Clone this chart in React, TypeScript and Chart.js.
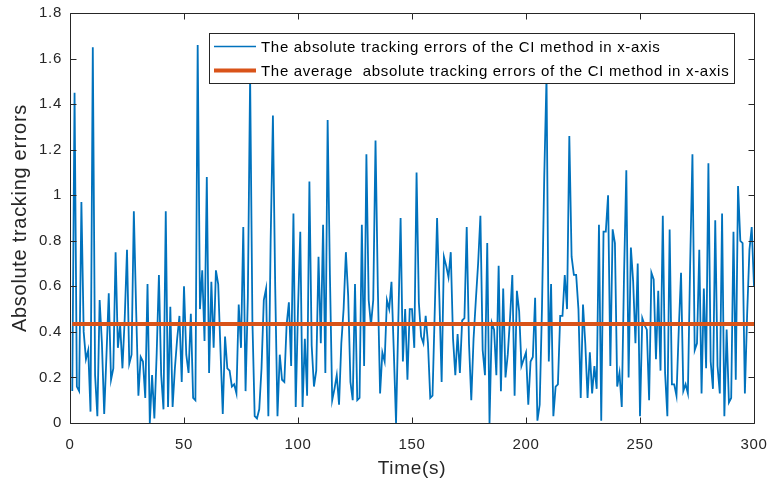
import React, { useEffect, useRef } from "react";
import { Chart, registerables } from "chart.js";

Chart.register(...registerables);

// ---- data ----
const TIME_S: number[] = Array.from({ length: 300 }, (_, i) => i + 1);

const ABS_ERRORS: number[] = [
  0.14, 1.45, 0.16, 0.14, 0.97, 0.4, 0.28, 0.32, 0.05, 1.65,
  0.21, 0.03, 0.54, 0.35, 0.04, 0.3, 0.57, 0.19, 0.24, 0.75,
  0.33, 0.43, 0.24, 0.46, 0.76, 0.26, 0.3, 0.93, 0.5, 0.12,
  0.29, 0.27, 0.11, 0.61, 0.0, 0.21, 0.02, 0.3, 0.65, 0.21,
  0.06, 0.93, 0.07, 0.51, 0.07, 0.24, 0.37, 0.47, 0.18, 0.6,
  0.3, 0.22, 0.48, 0.11, 0.1, 1.66, 0.5, 0.67, 0.36, 1.08,
  0.22, 0.62, 0.33, 0.67, 0.61, 0.32, 0.04, 0.38, 0.24, 0.23,
  0.16, 0.17, 0.13, 0.52, 0.33, 0.86, 0.14, 0.55, 1.52, 0.45,
  0.03, 0.02, 0.06, 0.24, 0.54, 0.59, 0.03, 0.8, 1.35, 0.6,
  0.03, 0.3, 0.19, 0.18, 0.43, 0.53, 0.25, 0.92, 0.07, 0.5,
  0.84, 0.07, 0.37, 0.12, 1.06, 0.34, 0.16, 0.23, 0.73, 0.35,
  0.87, 0.22, 1.33, 0.65, 0.1, 0.15, 0.21, 0.08, 0.35, 0.5,
  0.75, 0.56, 0.18, 0.1, 0.61, 0.1, 0.11, 0.87, 0.25, 1.18,
  0.54, 0.43, 0.54, 1.24, 0.6, 0.13, 0.31, 0.27, 0.54, 0.5,
  0.62, 0.32, 0.0, 0.45, 0.9, 0.27, 0.5, 0.19, 0.5, 0.5,
  0.33, 1.1, 0.53, 0.38, 0.35, 0.47, 0.35, 0.11, 0.12, 0.5,
  0.9, 0.55, 0.18, 0.73, 0.69, 0.64, 0.75, 0.37, 0.21, 0.39,
  0.22, 0.45, 0.46, 0.86, 0.35, 0.1, 0.37, 0.54, 0.7, 0.91,
  0.32, 0.21, 0.79, 0.0, 0.44, 0.41, 0.21, 0.69, 0.14, 0.59,
  0.2, 0.3, 0.46, 0.65, 0.12, 0.58, 0.49, 0.25, 0.28, 0.31,
  0.08, 0.27, 0.29, 0.55, 0.01, 0.08, 0.5, 1.08, 1.52, 0.27,
  0.61, 0.03, 0.16, 0.17, 0.47, 0.47, 0.65, 0.5, 1.26, 0.73,
  0.65, 0.65, 0.5, 0.11, 0.52, 0.35, 0.11, 0.31, 0.13, 0.25,
  0.15, 0.87, 0.01, 0.84, 0.84, 1.0, 0.25, 0.85, 0.79, 0.16,
  0.22, 0.07, 0.65, 1.11, 0.2, 0.77, 0.62, 0.35, 0.7, 0.03,
  0.46, 0.43, 0.41, 0.1, 0.66, 0.63, 0.28, 0.58, 0.23, 0.91,
  0.22, 0.03, 0.85, 0.17, 0.17, 0.12, 0.41, 0.66, 0.14, 0.17,
  0.13, 0.7, 1.18, 0.32, 0.35, 0.76, 0.13, 0.59, 0.24, 1.14,
  0.27, 0.15, 0.89, 0.25, 0.13, 0.92, 0.03, 0.41, 0.09, 0.11,
  0.84, 0.19, 1.04, 0.8, 0.79, 0.13, 0.48, 0.76, 0.86, 0.6,
];

const AVERAGE_ERROR = 0.435;

const X_TICKS: number[] = [0, 50, 100, 150, 200, 250, 300];
const Y_TICKS: number[] = [0, 0.2, 0.4, 0.6, 0.8, 1, 1.2, 1.4, 1.6, 1.8];

const SERIES_LABELS: string[] = [
  "The absolute tracking errors of the CI method in x-axis",
  "The average  absolute tracking errors of the CI method in x-axis",
];
const X_TITLE = "Time(s)";
const Y_TITLE = "Absolute tracking errors";

// ---- style ----
const BLUE = "#0072BD";
const ORANGE = "#D95319";
const AXIS = "#262626";
const FAMILY = '"Liberation Sans", Arial, Helvetica, sans-serif';
const LETTER_SPACING = "0.7px";

const framePlugin = {
  id: "matlabFrame",
  beforeUpdate(chart: any) {
    chart.ctx.letterSpacing = LETTER_SPACING;
  },
  beforeDraw(chart: any) {
    const ctx = chart.ctx;
    ctx.letterSpacing = LETTER_SPACING;
    ctx.save();
    ctx.fillStyle = "#ffffff";
    ctx.fillRect(0, 0, chart.width, chart.height);
    ctx.restore();
  },
  afterDatasetsDraw(chart: any) {
    const ctx = chart.ctx;
    const a = chart.chartArea;
    const xs = chart.scales.x;
    const ys = chart.scales.y;
    ctx.save();
    ctx.strokeStyle = AXIS;
    ctx.lineWidth = 1;
    const L = Math.round(a.left) + 0.5;
    const R = Math.round(a.right) + 0.5;
    const T = Math.round(a.top) + 0.5;
    const B = Math.round(a.bottom) + 0.5;
    ctx.beginPath();
    ctx.rect(L, T, R - L, B - T);
    const tl = 6;
    for (const v of X_TICKS) {
      const px = Math.round(xs.getPixelForValue(v)) + 0.5;
      ctx.moveTo(px, B);
      ctx.lineTo(px, B - tl);
      ctx.moveTo(px, T);
      ctx.lineTo(px, T + tl);
    }
    for (const v of Y_TICKS) {
      const py = Math.round(ys.getPixelForValue(v)) + 0.5;
      ctx.moveTo(L, py);
      ctx.lineTo(L + tl, py);
      ctx.moveTo(R, py);
      ctx.lineTo(R - tl, py);
    }
    ctx.stroke();

    // legend box (MATLAB style, inside axes, north-east)
    ctx.font = `15px ${FAMILY}`;
    ctx.letterSpacing = LETTER_SPACING;
    const textW = Math.max(...SERIES_LABELS.map((s) => ctx.measureText(s).width));
    const boxW = Math.round(52 + textW + 5);
    const boxH = 50;
    const boxR = Math.round(a.right) - 20;
    const boxL = boxR - boxW;
    const boxT = Math.round(a.top) + 20;
    ctx.fillStyle = "#ffffff";
    ctx.fillRect(boxL, boxT, boxW, boxH);
    ctx.strokeStyle = AXIS;
    ctx.lineWidth = 1;
    ctx.strokeRect(boxL + 0.5, boxT + 0.5, boxW, boxH);
    const rows = [boxT + 13.5, boxT + 37.5];
    const colors = [BLUE, ORANGE];
    const widths = [1.6, 4];
    rows.forEach((ry, i) => {
      ctx.beginPath();
      ctx.strokeStyle = colors[i];
      ctx.lineWidth = widths[i];
      ctx.moveTo(boxL + 5, ry);
      ctx.lineTo(boxL + 47, ry);
      ctx.stroke();
      ctx.fillStyle = "#000000";
      ctx.textBaseline = "middle";
      ctx.textAlign = "left";
      ctx.fillText(SERIES_LABELS[i], boxL + 52, ry + 1);
    });
    ctx.restore();
  },
};

export default function App() {
  const ref = useRef<HTMLCanvasElement | null>(null);

  useEffect(() => {
    document.body.style.margin = "0";
    const canvas = ref.current;
    if (!canvas) return;
    const errorPoints = TIME_S.map((t, i) => ({ x: t, y: ABS_ERRORS[i] }));
    const avgPoints = [
      { x: TIME_S[0], y: AVERAGE_ERROR },
      { x: TIME_S[TIME_S.length - 1], y: AVERAGE_ERROR },
    ];
    const chart = new Chart(canvas, {
      type: "line",
      data: {
        datasets: [
          {
            label: SERIES_LABELS[0],
            data: errorPoints,
            borderColor: BLUE,
            borderWidth: 1.8,
            pointRadius: 0,
            tension: 0,
            fill: false,
            order: 1,
          },
          {
            label: SERIES_LABELS[1],
            data: avgPoints,
            borderColor: ORANGE,
            borderWidth: 4,
            pointRadius: 0,
            tension: 0,
            fill: false,
            order: 0,
          },
        ],
      },
      options: {
        responsive: false,
        animation: false,
        devicePixelRatio: 1,
        layout: { padding: { top: 13, right: 17, left: 0, bottom: 0 } },
        plugins: {
          legend: { display: false },
          tooltip: { enabled: false },
        },
        scales: {
          x: {
            type: "linear",
            min: 0,
            max: 300,
            afterBuildTicks: (s: any) => {
              s.ticks = X_TICKS.map((v) => ({ value: v }));
            },
            afterFit: (s: any) => {
              s.height = 65;
              s.paddingLeft = 0;
              s.paddingRight = 0;
            },
            grid: { display: false, drawTicks: false },
            border: { display: false },
            ticks: {
              color: AXIS,
              padding: 13,
              maxRotation: 0,
              font: { family: FAMILY, size: 15 },
            },
            title: {
              display: true,
              text: X_TITLE,
              color: AXIS,
              font: { family: FAMILY, size: 19 },
              padding: { top: 0, bottom: 8 },
            },
          },
          y: {
            type: "linear",
            min: 0,
            max: 1.8,
            afterBuildTicks: (s: any) => {
              s.ticks = Y_TICKS.map((v) => ({ value: v }));
            },
            afterFit: (s: any) => {
              s.width = 70;
              s.paddingTop = 0;
              s.paddingBottom = 0;
            },
            grid: { display: false, drawTicks: false },
            border: { display: false },
            ticks: {
              color: AXIS,
              padding: 8,
              font: { family: FAMILY, size: 15 },
              callback: (v: any) => String(Number(Number(v).toFixed(1))),
            },
            title: {
              display: true,
              text: Y_TITLE,
              color: AXIS,
              font: { family: FAMILY, size: 20 },
              padding: { top: 8, bottom: 0 },
            },
          },
        },
      },
      plugins: [framePlugin],
    });
    return () => chart.destroy();
  }, []);

  return (
    <div style={{ width: 771, height: 488 }}>
      <canvas ref={ref} width={771} height={488} style={{ display: "block" }} />
    </div>
  );
}
